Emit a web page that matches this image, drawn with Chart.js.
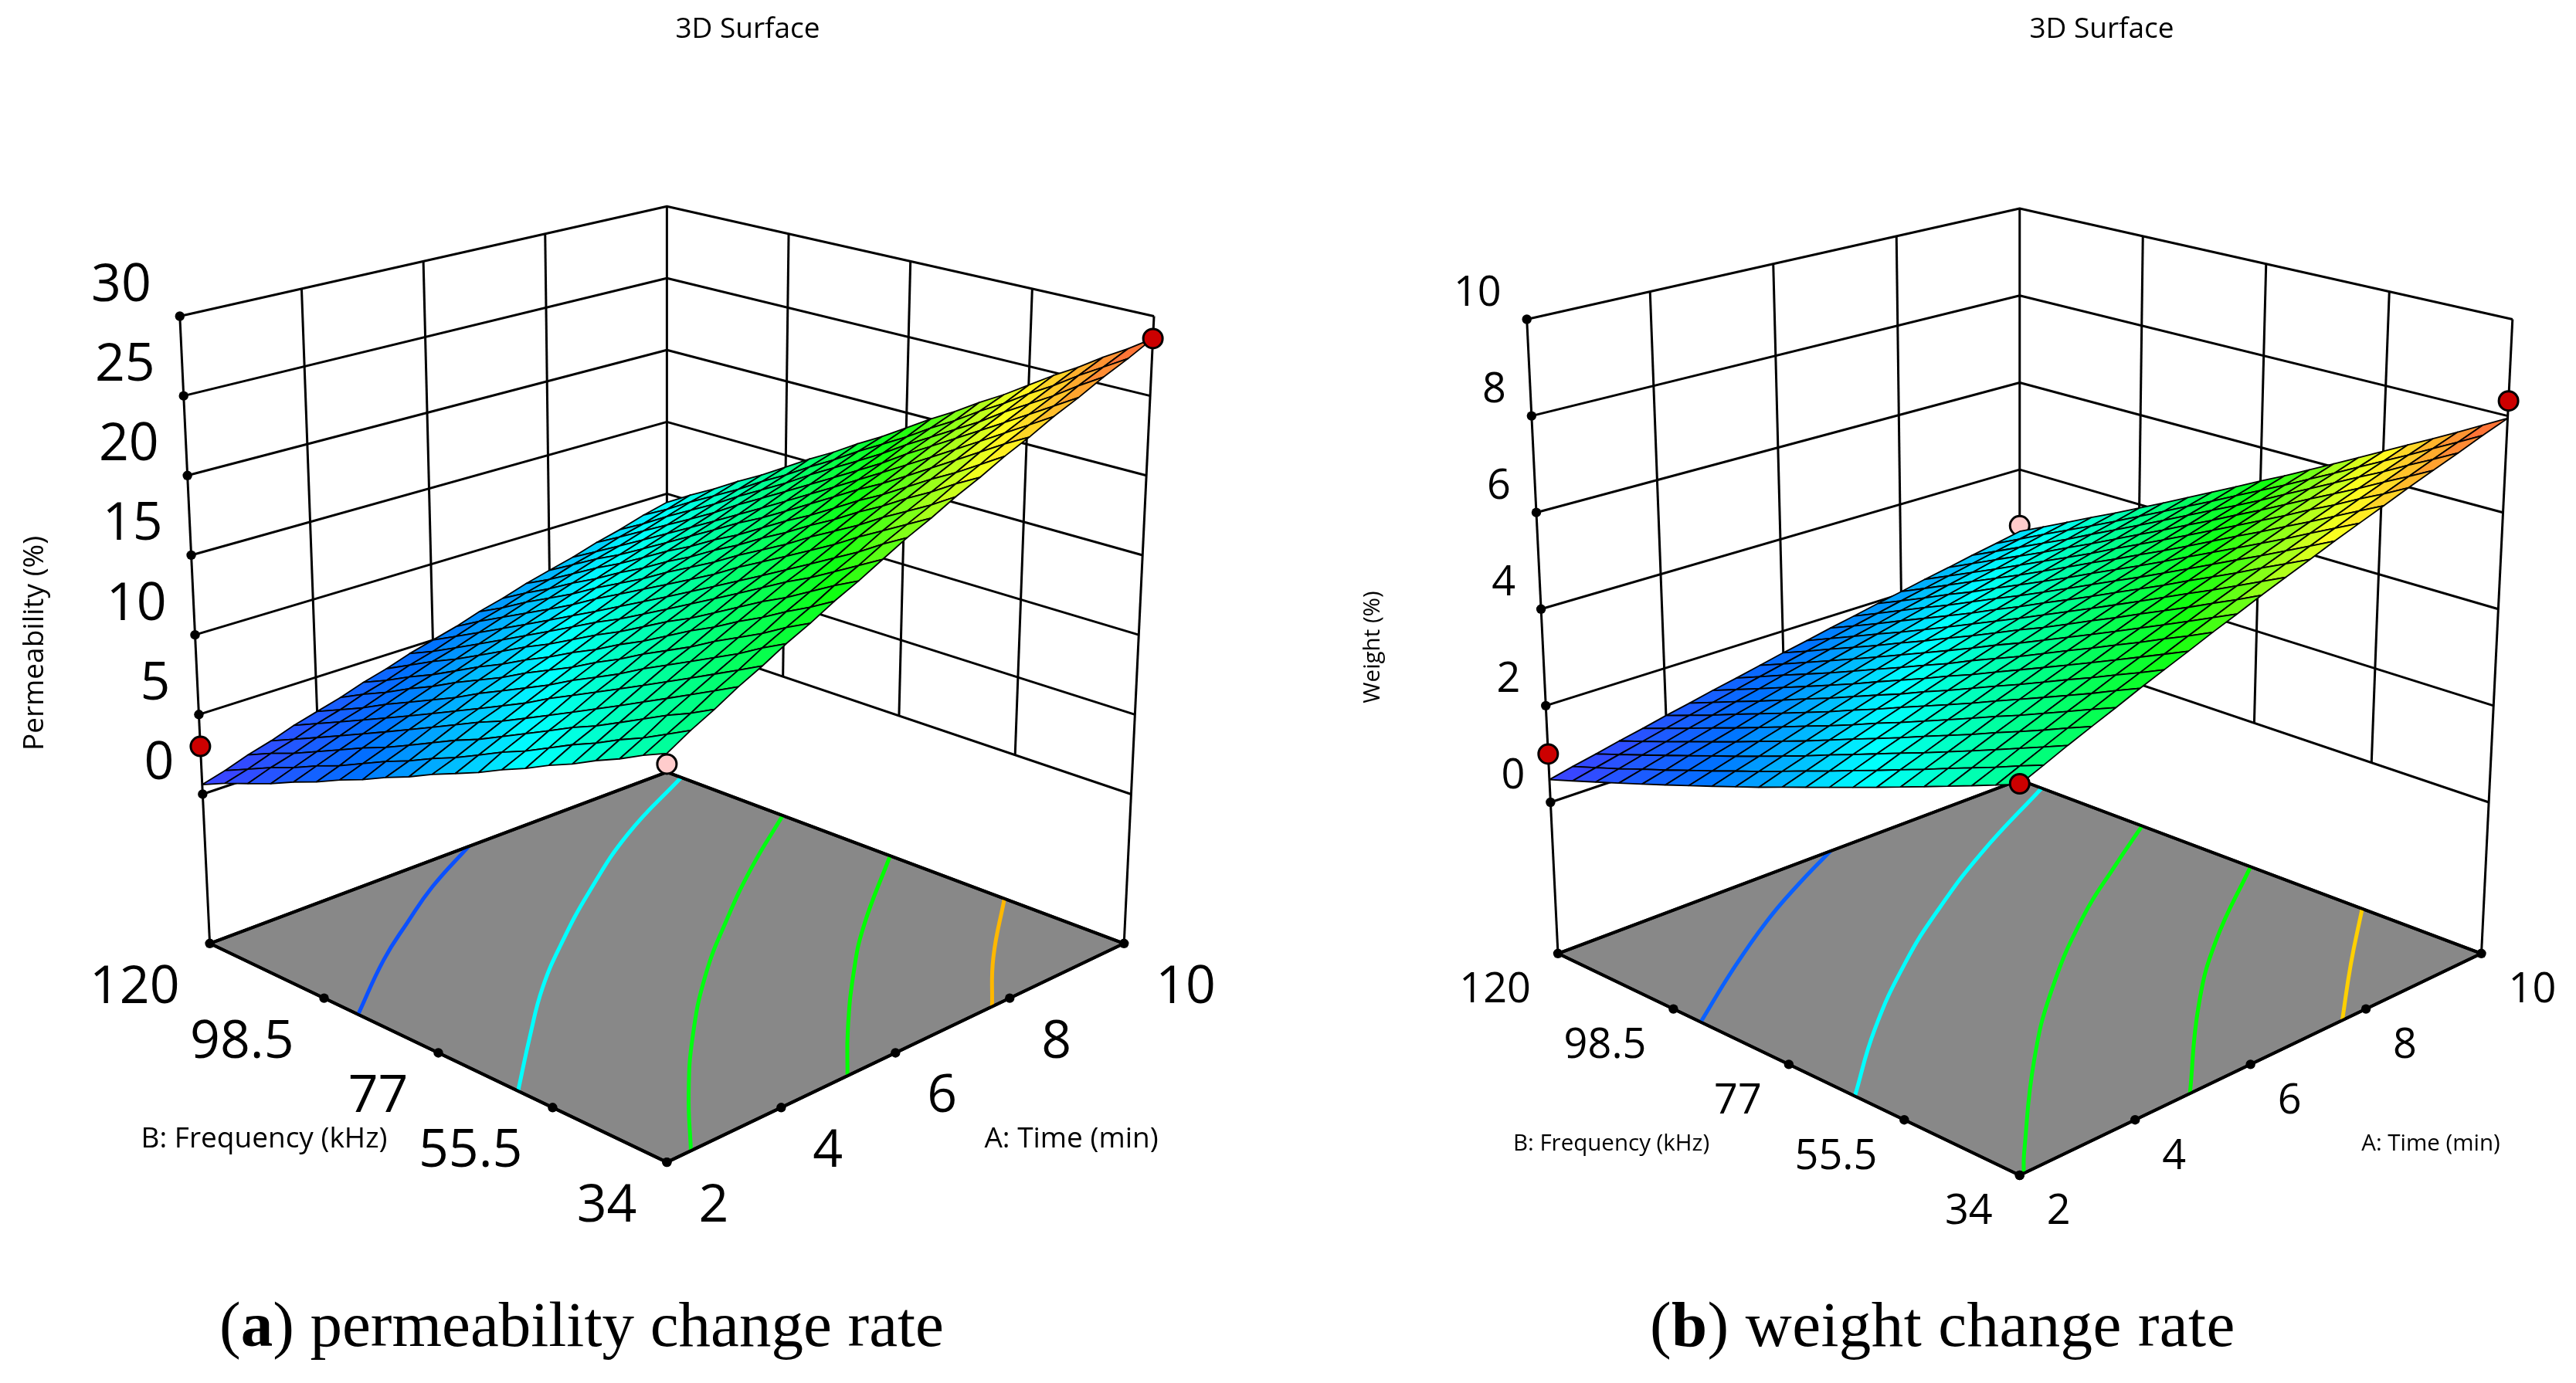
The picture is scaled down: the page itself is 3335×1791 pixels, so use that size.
<!DOCTYPE html>
<html>
<head>
<meta charset="utf-8">
<title>3D Surface</title>
<script src="https://cdn.jsdelivr.net/npm/chart.js@4/dist/chart.umd.min.js"></script>
<style>
body { margin: 0; background: #fff; width: 3335px; height: 1791px; overflow: hidden; position: relative; }
canvas { position: absolute; top: 0; }
.caption { position: absolute; font-family: "Liberation Serif", serif; font-size: 83px; line-height: 83px; color: #000; white-space: nowrap; }
</style>
</head>
<body>
<canvas id="left" width="1668" height="1791" style="left:0"></canvas>
<canvas id="right" width="1667" height="1791" style="left:1668px"></canvas>
<div class="caption" style="left:284px;top:1674px">(<b>a</b>) permeability change rate</div>
<div class="caption" style="left:2136px;top:1674px;letter-spacing:0.4px">(<b>b</b>) weight change rate</div>
<script>
const timeTicks = [2, 4, 6, 8, 10]
const freqTicks = [34, 55.5, 77, 98.5, 120]
const permTicks = [0, 5, 10, 15, 20, 25, 30]
const weightTicks = [0, 2, 4, 6, 8, 10]

// mesh nodes, rows run along frequency and columns along time
const timeGrid = [2, 2.4, 2.8, 3.2, 3.6, 4, 4.4, 4.8, 5.2, 5.6, 6, 6.4, 6.8, 7.2, 7.6, 8, 8.4, 8.8, 9.2, 9.6, 10]
const freqGrid = [34, 38.3, 42.6, 46.9, 51.2, 55.5, 59.8, 64.1, 68.4, 72.7, 77, 81.3, 85.6, 89.9, 94.2, 98.5, 102.8, 107.1, 111.4, 115.7, 120]

const permeability = [
	[13.5, 14.3, 15.0, 15.8, 16.5, 17.3, 18.0, 18.8, 19.5, 20.3, 21.1, 21.8, 22.6, 23.3, 24.1, 24.8, 25.6, 26.3, 27.1, 27.8, 28.6],
	[12.9, 13.6, 14.3, 15.1, 15.8, 16.6, 17.3, 18.0, 18.8, 19.5, 20.3, 21.0, 21.7, 22.5, 23.2, 24.0, 24.7, 25.4, 26.2, 26.9, 27.6],
	[12.2, 12.9, 13.7, 14.4, 15.1, 15.8, 16.5, 17.3, 18.0, 18.7, 19.4, 20.2, 20.9, 21.6, 22.3, 23.1, 23.8, 24.5, 25.2, 26.0, 26.7],
	[11.6, 12.3, 13.0, 13.7, 14.4, 15.1, 15.8, 16.5, 17.2, 17.9, 18.6, 19.4, 20.1, 20.8, 21.5, 22.2, 22.9, 23.6, 24.3, 25.0, 25.7],
	[10.9, 11.6, 12.3, 13.0, 13.7, 14.4, 15.1, 15.8, 16.5, 17.2, 17.8, 18.5, 19.2, 19.9, 20.6, 21.3, 22.0, 22.7, 23.4, 24.1, 24.8],
	[10.3, 11.0, 11.6, 12.3, 13.0, 13.7, 14.3, 15.0, 15.7, 16.4, 17.0, 17.7, 18.4, 19.1, 19.7, 20.4, 21.1, 21.8, 22.4, 23.1, 23.8],
	[9.6, 10.3, 11.0, 11.6, 12.3, 13.0, 13.6, 14.3, 14.9, 15.6, 16.2, 16.9, 17.6, 18.2, 18.9, 19.5, 20.2, 20.9, 21.5, 22.2, 22.8],
	[9.0, 9.6, 10.3, 10.9, 11.6, 12.2, 12.9, 13.5, 14.1, 14.8, 15.4, 16.1, 16.7, 17.4, 18.0, 18.7, 19.3, 20.0, 20.6, 21.2, 21.9],
	[8.3, 9.0, 9.6, 10.2, 10.9, 11.5, 12.1, 12.7, 13.4, 14.0, 14.6, 15.3, 15.9, 16.5, 17.1, 17.8, 18.4, 19.0, 19.7, 20.3, 20.9],
	[7.7, 8.3, 8.9, 9.5, 10.2, 10.8, 11.4, 12.0, 12.6, 13.2, 13.8, 14.4, 15.1, 15.7, 16.3, 16.9, 17.5, 18.1, 18.7, 19.3, 20.0],
	[7.1, 7.6, 8.2, 8.8, 9.4, 10.0, 10.6, 11.2, 11.8, 12.4, 13.0, 13.6, 14.2, 14.8, 15.4, 16.0, 16.6, 17.2, 17.8, 18.4, 19.0],
	[6.4, 7.0, 7.6, 8.2, 8.7, 9.3, 9.9, 10.5, 11.1, 11.6, 12.2, 12.8, 13.4, 14.0, 14.5, 15.1, 15.7, 16.3, 16.9, 17.5, 18.0],
	[5.8, 6.3, 6.9, 7.5, 8.0, 8.6, 9.2, 9.7, 10.3, 10.9, 11.4, 12.0, 12.6, 13.1, 13.7, 14.3, 14.8, 15.4, 16.0, 16.5, 17.1],
	[5.1, 5.7, 6.2, 6.8, 7.3, 7.9, 8.4, 9.0, 9.5, 10.1, 10.6, 11.2, 11.7, 12.3, 12.8, 13.4, 13.9, 14.5, 15.0, 15.6, 16.1],
	[4.5, 5.0, 5.5, 6.1, 6.6, 7.1, 7.7, 8.2, 8.8, 9.3, 9.8, 10.4, 10.9, 11.4, 12.0, 12.5, 13.0, 13.6, 14.1, 14.6, 15.2],
	[3.8, 4.3, 4.9, 5.4, 5.9, 6.4, 7.0, 7.5, 8.0, 8.5, 9.0, 9.5, 10.1, 10.6, 11.1, 11.6, 12.1, 12.6, 13.2, 13.7, 14.2],
	[3.2, 3.7, 4.2, 4.7, 5.2, 5.7, 6.2, 6.7, 7.2, 7.7, 8.2, 8.7, 9.2, 9.7, 10.2, 10.7, 11.2, 11.7, 12.2, 12.7, 13.2],
	[2.5, 3.0, 3.5, 4.0, 4.5, 5.0, 5.5, 5.9, 6.4, 6.9, 7.4, 7.9, 8.4, 8.9, 9.4, 9.8, 10.3, 10.8, 11.3, 11.8, 12.3],
	[1.9, 2.4, 2.8, 3.3, 3.8, 4.2, 4.7, 5.2, 5.7, 6.1, 6.6, 7.1, 7.6, 8.0, 8.5, 9.0, 9.4, 9.9, 10.4, 10.9, 11.3],
	[1.3, 1.7, 2.2, 2.6, 3.1, 3.5, 4.0, 4.4, 4.9, 5.3, 5.8, 6.3, 6.7, 7.2, 7.6, 8.1, 8.5, 9.0, 9.4, 9.9, 10.4],
	[0.6, 1.0, 1.5, 1.9, 2.4, 2.8, 3.2, 3.7, 4.1, 4.6, 5.0, 5.4, 5.9, 6.3, 6.8, 7.2, 7.6, 8.1, 8.5, 9.0, 9.4]
]

const weight = [
	[4.08, 4.27, 4.47, 4.66, 4.85, 5.05, 5.24, 5.43, 5.63, 5.82, 6.02, 6.21, 6.40, 6.60, 6.79, 6.98, 7.18, 7.37, 7.56, 7.76, 7.95],
	[3.90, 4.09, 4.28, 4.47, 4.66, 4.85, 5.03, 5.22, 5.41, 5.60, 5.79, 5.98, 6.17, 6.36, 6.55, 6.74, 6.92, 7.11, 7.30, 7.49, 7.68],
	[3.72, 3.90, 4.09, 4.27, 4.46, 4.64, 4.83, 5.01, 5.20, 5.38, 5.57, 5.75, 5.94, 6.12, 6.31, 6.49, 6.68, 6.86, 7.05, 7.23, 7.41],
	[3.54, 3.72, 3.90, 4.08, 4.26, 4.44, 4.62, 4.80, 4.98, 5.16, 5.34, 5.52, 5.70, 5.88, 6.06, 6.24, 6.42, 6.60, 6.78, 6.96, 7.14],
	[3.36, 3.54, 3.71, 3.89, 4.06, 4.24, 4.42, 4.59, 4.77, 4.94, 5.12, 5.30, 5.47, 5.65, 5.82, 6.00, 6.18, 6.35, 6.53, 6.70, 6.88],
	[3.18, 3.35, 3.52, 3.69, 3.87, 4.04, 4.21, 4.38, 4.55, 4.72, 4.90, 5.07, 5.24, 5.41, 5.58, 5.75, 5.92, 6.10, 6.27, 6.44, 6.61],
	[3.00, 3.17, 3.33, 3.50, 3.67, 3.84, 4.00, 4.17, 4.34, 4.50, 4.67, 4.84, 5.00, 5.17, 5.34, 5.51, 5.67, 5.84, 6.01, 6.17, 6.34],
	[2.82, 2.98, 3.15, 3.31, 3.47, 3.63, 3.80, 3.96, 4.12, 4.28, 4.45, 4.61, 4.77, 4.93, 5.10, 5.26, 5.42, 5.58, 5.75, 5.91, 6.07],
	[2.64, 2.80, 2.96, 3.11, 3.27, 3.43, 3.59, 3.75, 3.90, 4.06, 4.22, 4.38, 4.54, 4.69, 4.85, 5.01, 5.17, 5.33, 5.48, 5.64, 5.80],
	[2.46, 2.61, 2.77, 2.92, 3.07, 3.23, 3.38, 3.53, 3.69, 3.84, 3.99, 4.15, 4.30, 4.46, 4.61, 4.76, 4.92, 5.07, 5.22, 5.38, 5.53],
	[2.28, 2.43, 2.58, 2.73, 2.88, 3.03, 3.18, 3.33, 3.48, 3.63, 3.78, 3.92, 4.07, 4.22, 4.37, 4.52, 4.67, 4.82, 4.97, 5.12, 5.27],
	[2.09, 2.24, 2.38, 2.53, 2.67, 2.82, 2.96, 3.11, 3.25, 3.40, 3.55, 3.69, 3.84, 3.98, 4.13, 4.27, 4.42, 4.56, 4.71, 4.85, 5.00],
	[1.91, 2.05, 2.19, 2.33, 2.47, 2.62, 2.76, 2.90, 3.04, 3.18, 3.32, 3.46, 3.60, 3.74, 3.88, 4.03, 4.17, 4.31, 4.45, 4.59, 4.73],
	[1.73, 1.87, 2.00, 2.14, 2.28, 2.41, 2.55, 2.69, 2.82, 2.96, 3.10, 3.23, 3.37, 3.50, 3.64, 3.78, 3.91, 4.05, 4.19, 4.32, 4.46],
	[1.55, 1.68, 1.81, 1.95, 2.08, 2.21, 2.34, 2.47, 2.61, 2.74, 2.87, 3.00, 3.13, 3.27, 3.40, 3.53, 3.66, 3.79, 3.93, 4.06, 4.19],
	[1.37, 1.50, 1.63, 1.75, 1.88, 2.01, 2.14, 2.26, 2.39, 2.52, 2.65, 2.77, 2.90, 3.03, 3.16, 3.28, 3.41, 3.54, 3.67, 3.79, 3.92],
	[1.19, 1.31, 1.44, 1.56, 1.68, 1.81, 1.93, 2.05, 2.17, 2.30, 2.42, 2.54, 2.67, 2.79, 2.91, 3.04, 3.16, 3.28, 3.40, 3.53, 3.65],
	[1.01, 1.13, 1.25, 1.37, 1.49, 1.61, 1.72, 1.84, 1.96, 2.08, 2.20, 2.32, 2.44, 2.56, 2.68, 2.80, 2.91, 3.03, 3.15, 3.27, 3.39],
	[0.83, 0.94, 1.06, 1.17, 1.29, 1.40, 1.52, 1.63, 1.75, 1.86, 1.98, 2.09, 2.20, 2.32, 2.43, 2.55, 2.66, 2.78, 2.89, 3.01, 3.12],
	[0.65, 0.76, 0.87, 0.98, 1.09, 1.20, 1.31, 1.42, 1.53, 1.64, 1.75, 1.86, 1.97, 2.08, 2.19, 2.30, 2.41, 2.52, 2.63, 2.74, 2.85],
	[0.47, 0.58, 0.68, 0.79, 0.89, 1.00, 1.10, 1.21, 1.31, 1.42, 1.53, 1.63, 1.74, 1.84, 1.95, 2.05, 2.16, 2.26, 2.37, 2.47, 2.58]
]

// design points: time, frequency, response
const permRedPoints = [[2, 120, 3.0], [10, 34, 28.6]]
const permPinkPoints = [[2, 34, 12.9]]
const weightRedPoints = [[2, 120, 1.0], [2, 34, 4.09], [10, 34, 8.31]]
const weightPinkPoints = [[10, 120, 2.71]]

// contours on the floor: time, frequency
const permContours = [
	[[2, 92.1], [3.33, 101.6], [4.32, 107.8], [5.32, 113.8], [6.53, 120]],
	[[2, 62], [3.19, 72.5], [4.22, 81.3], [5.28, 89.2], [6.64, 98.5], [8.25, 108.5], [10, 117.3]],
	[[2.42, 34], [3.46, 45.6], [4.59, 57], [5.92, 68.9], [7.21, 78.9], [8.58, 88.8], [10, 98.2]],
	[[5.16, 34], [6.06, 43.6], [7.23, 55.1], [8.27, 64.4], [10, 78]],
	[[7.69, 34], [8.69, 44.5], [10, 56.5]]
]
const weightContours = [
	[[2, 93.4], [3.32, 101.7], [4.64, 109.5], [5.67, 114.9], [6.72, 120]],
	[[2, 64.7], [3.45, 76.6], [5.05, 88.1], [6.46, 97], [8.06, 106.1], [10, 115.9]],
	[[2.07, 34], [2.44, 37.9], [4.26, 55.6], [5.82, 69], [7.56, 81.9], [8.93, 90.6], [10, 97.2]],
	[[4.95, 34], [6.71, 51.3], [8.14, 63.5], [10, 77]],
	[[7.59, 34], [8.77, 45.1], [10, 56.2]]
]
const permContourColors = ["#0b50ff", "#00ffff", "#00ff10", "#00ff00", "#ffb800"]
const weightContourColors = ["#0a60ff", "#00ffff", "#00ff10", "#00ff00", "#ffd000"]

// blue to red ramp of the surface
const rampStops = [
	[0, 64, 64, 255], [0.16, 0, 112, 255], [0.33, 0, 255, 255], [0.5, 0, 255, 128],
	[0.65, 16, 255, 16], [0.82, 255, 255, 32], [0.92, 255, 160, 48], [1, 255, 90, 60]
]

function rampColor(t) {
	for (let i = 1; i < rampStops.length; i++) {
		const a = rampStops[i - 1], b = rampStops[i]
		if (t <= b[0]) {
			const k = (t - a[0]) / (b[0] - a[0])
			return `rgb(${a[1] + (b[1] - a[1]) * k}, ${a[2] + (b[2] - a[2]) * k}, ${a[3] + (b[3] - a[3]) * k})`
		}
	}
	return "rgb(255, 90, 60)"
}

// maps time, frequency and response onto the page, the way the box was photographed
function makeProjection(view, zMax) {
	return function (time, freq, z) {
		const u = (time - 2) / 8
		const v = (freq - 34) / 86
		const h = view.base + (1 - view.base) * z / zMax
		return projectBox(view, u, v, h)
	}
}

function projectBox(view, u, v, h) {
	const floorY = view.cy + view.front * (1 - u) * (1 - v) - view.back * u * v
	const topY = view.topY + view.topFront * (1 - u) * (1 - v) - view.topBack * u * v
	return {
		x: view.cx + (u - v) * (view.a + view.spread * h),
		y: floorY + (topY - floorY) * h
	}
}

function lineSet(data, color, width, extra) {
	return Object.assign({data, borderColor: color, borderWidth: width, pointRadius: 0, fill: false, clip: false, borderJoinStyle: "round"}, extra)
}

function dotSet(data, fill, radius, border) {
	return {data, showLine: false, pointRadius: radius, pointBackgroundColor: fill, pointBorderColor: "#000", pointBorderWidth: border, clip: false}
}

function buildDatasets(p) {
	const at = makeProjection(p.view, p.zTicks[p.zTicks.length - 1])
	const floorAt = (time, freq) => projectBox(p.view, (time - 2) / 8, (freq - 34) / 86, 0)
	const zero = p.zTicks[0], top = p.zTicks[p.zTicks.length - 1]
	const sets = []

	// walls
	for (let z of p.zTicks) {
		sets.push(lineSet([at(2, 120, z), at(10, 120, z), at(10, 34, z)], "#000", 3))
	}
	for (let t of timeTicks.slice(1, 4)) sets.push(lineSet([at(t, 120, zero), at(t, 120, top)], "#000", 3))
	for (let f of freqTicks.slice(1, 4)) sets.push(lineSet([at(10, f, zero), at(10, f, top)], "#000", 3))
	sets.push(lineSet([at(10, 120, zero), at(10, 120, top)], "#000", 3))
	sets.push(lineSet([floorAt(2, 120), at(2, 120, top)], "#000", 3))
	sets.push(lineSet([floorAt(10, 34), at(10, 34, top)], "#000", 3))

	// floor
	const outline = [floorAt(2, 120), floorAt(2, 34), floorAt(10, 34), floorAt(10, 120), floorAt(2, 120)]
	sets.push(lineSet(outline, "#000", 4, {fill: "shape", backgroundColor: "#888888"}))
	p.contours.forEach((c, i) => {
		sets.push(lineSet(c.map(q => floorAt(q[0], q[1])), p.contourColors[i], 5, {tension: 0.45}))
	})
	sets.push(lineSet(outline, "#000", 4))

	// tick dots
	const dots = p.zTicks.map(z => at(2, 120, z))
	for (let t of timeTicks) dots.push(floorAt(t, 34))
	for (let f of freqTicks) dots.push(floorAt(2, f))
	sets.push(dotSet(dots, "#000", p.dotRadius, 0))

	sets.push(dotSet(p.pink.map(q => at(q[0], q[1], q[2])), "#ffcccc", p.markerRadius, 3))

	// surface, back corner first
	const zs = p.surface.flat()
	const zMin = Math.min(...zs), zTop = Math.max(...zs)
	for (let j = freqGrid.length - 2; j >= 0; j--) {
		for (let i = timeGrid.length - 2; i >= 0; i--) {
			const mean = (p.surface[j][i] + p.surface[j][i + 1] + p.surface[j + 1][i] + p.surface[j + 1][i + 1]) / 4
			const corner = [[i, j], [i + 1, j], [i + 1, j + 1], [i, j + 1], [i, j]]
			sets.push(lineSet(corner.map(c => at(timeGrid[c[0]], freqGrid[c[1]], p.surface[c[1]][c[0]])), "#000", 1.8, {
				fill: "shape",
				backgroundColor: rampColor((mean - zMin) / (zTop - zMin))
			}))
		}
	}

	sets.push(dotSet(p.red.map(q => at(q[0], q[1], q[2])), "#cc0000", p.markerRadius, 3))

	// first dataset is painted last by default, so turn the order around
	sets.forEach((s, i) => { s.order = -i })
	return sets
}

const textPlugin = {
	id: "boxText",
	afterDatasetsDraw(chart, args, opts) {
		const p = opts.panel
		const ctx = chart.ctx
		const sx = chart.scales.x, sy = chart.scales.y
		const at = makeProjection(p.view, p.zTicks[p.zTicks.length - 1])
		const floorAt = (time, freq) => projectBox(p.view, (time - 2) / 8, (freq - 34) / 86, 0)
		const put = (text, x, y, align, font) => {
			ctx.font = font
			ctx.textAlign = align
			ctx.textBaseline = "middle"
			ctx.fillStyle = "#000"
			ctx.fillText(text, sx.getPixelForValue(x), sy.getPixelForValue(y))
		}
		const tickFont = `${p.tickSize}px "Open Sans"`
		const titleFont = `${p.titleSize}px "Open Sans"`

		ctx.save()
		for (let z of p.zTicks) {
			const q = at(2, 120, z)
			put(String(z), q.x + p.zLabelDx, q.y + p.zLabelDy, "right", tickFont)
		}
		for (let f of freqTicks) {
			const q = floorAt(2, f)
			put(String(f), q.x - p.floorDx, q.y + p.floorDy, "right", tickFont)
		}
		for (let t of timeTicks) {
			const q = floorAt(t, 34)
			put(String(t), q.x + p.timeDx, q.y + p.floorDy, "left", tickFont)
		}
		put("3D Surface", p.mainTitle[0], p.mainTitle[1], "center", '37px "Open Sans"')
		put("A: Time (min)", p.timeTitle[0], p.timeTitle[1], "center", titleFont)
		put("B: Frequency (kHz)", p.freqTitle[0], p.freqTitle[1], "center", titleFont)

		ctx.translate(sx.getPixelForValue(p.zTitle[0]), sy.getPixelForValue(p.zTitle[1]))
		ctx.rotate(-Math.PI / 2)
		ctx.font = titleFont
		ctx.textAlign = "center"
		ctx.textBaseline = "middle"
		ctx.fillText(p.zName, 0, 0)
		ctx.restore()
	}
}

function drawPanel(id, xMin, xMax, p) {
	new Chart(document.getElementById(id), {
		type: "line",
		data: {datasets: buildDatasets(p)},
		options: {
			responsive: false,
			animation: false,
			events: [],
			layout: {padding: 0, autoPadding: false},
			scales: {
				x: {type: "linear", min: xMin, max: xMax, display: false},
				y: {type: "linear", min: 0, max: 1791, reverse: true, display: false}
			},
			plugins: {legend: {display: false}, tooltip: {enabled: false}, boxText: {panel: p}}
		},
		plugins: [textPlugin]
	})
}

drawPanel("left", 0, 1668, {
	view: {cx: 863.4, cy: 1221.8, a: 591.8, spread: 38.8, front: 283.3, back: 222, topY: 409.5, topFront: 184, topBack: 142.3, base: 0.238},
	zTicks: permTicks, surface: permeability, red: permRedPoints, pink: permPinkPoints,
	contours: permContours, contourColors: permContourColors,
	zName: "Permeability (%)", zTitle: [45, 833], mainTitle: [968, 38], timeTitle: [1387, 1475], freqTitle: [342, 1475],
	tickSize: 68, titleSize: 37, zLabelDx: -37, zLabelDy: -39, floorDx: 39, timeDx: 41, floorDy: 57.5, dotRadius: 6.2, markerRadius: 12.5
})

drawPanel("right", 1668, 3335, {
	view: {cx: 2614.75, cy: 1234.8, a: 597.75, spread: 40.3, front: 287.2, back: 224.8, topY: 413.5, topFront: 186.5, topBack: 143.5, base: 0.2384},
	zTicks: weightTicks, surface: weight, red: weightRedPoints, pink: weightPinkPoints,
	contours: weightContours, contourColors: weightContourColors,
	zName: "Weight (%)", zTitle: [1778, 838], mainTitle: [2721, 38], timeTitle: [3147, 1482], freqTitle: [2086, 1482],
	tickSize: 54, titleSize: 29.5, zLabelDx: -33, zLabelDy: -33, floorDx: 35, timeDx: 35, floorDy: 48, dotRadius: 6.2, markerRadius: 12.5
})
</script>
</body>
</html>
